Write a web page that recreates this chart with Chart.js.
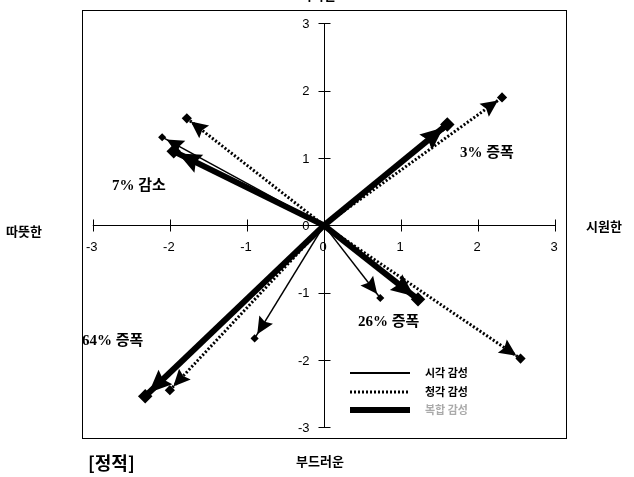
<!DOCTYPE html>
<html>
<head>
<meta charset="utf-8">
<script src="https://cdn.jsdelivr.net/npm/chart.js@4.4.0/dist/chart.umd.min.js"></script>
<style>
  body { margin: 0; background: #fff; }
  #wrap { width: 634px; height: 477px; }
</style>
</head>
<body>
<div id="wrap"><canvas id="myChart" width="634" height="477"></canvas></div>
<script>
// vector end points (origin -> end), one per quadrant group
var groups = ['7% 감소', '3% 증폭', '64% 증폭', '26% 증폭'];
var thinX = [-2.1, 1.55, -0.9, 0.73];
var thinY = [1.31, 1.45, -1.68, -1.08];
var dottedX = [-1.78, 2.31, -2.0, 2.55];
var dottedY = [1.59, 1.9, -2.45, -1.98];
var thickX = [-1.95, 1.6, -2.32, 1.22];
var thickY = [1.1, 1.5, -2.54, -1.1];
var seriesNames = ['시각 감성', '청각 감성', '복합 감성'];
var tickLabels = ['-3', '-2', '-1', '0', '1', '2', '3'];
var tickValues = [-3, -2, -1, 0, 1, 2, 3];

function vectors(xs, ys, name, width, dash) {
    return xs.map(function (x, i) {
        return {
            label: name,
            data: [{x: 0, y: 0}, {x: x, y: ys[i]}],
            showLine: true,
            borderColor: '#000',
            backgroundColor: '#000',
            borderWidth: width,
            borderDash: dash,
            pointRadius: [0, 3],
            pointStyle: 'rectRot',
            arrow: width
        };
    });
}

var datasets = [].concat(
    vectors(thinX, thinY, seriesNames[0], 1.5, []),
    vectors(dottedX, dottedY, seriesNames[1], 3, [2, 2]),
    vectors(thickX, thickY, seriesNames[2], 6, [])
);

// arrow heads, axes through origin, labels and legend
var decor = {
    id: 'decor',
    beforeDatasetsDraw: function (chart) {
        var c = chart.ctx, xs = chart.scales.x, ys = chart.scales.y;
        var a = chart.chartArea;
        c.save();
        c.strokeStyle = '#000';
        c.lineWidth = 1;
        c.strokeRect(a.left + 0.5, a.top + 0.5, a.right - a.left, a.bottom - a.top);
        var ox = Math.round(xs.getPixelForValue(0)) + 0.5;
        var oy = Math.round(ys.getPixelForValue(0)) + 0.5;
        c.beginPath();
        c.moveTo(xs.getPixelForValue(-3), oy); c.lineTo(xs.getPixelForValue(3), oy);
        c.moveTo(ox, ys.getPixelForValue(3)); c.lineTo(ox, ys.getPixelForValue(-3));
        tickValues.forEach(function (v) {
            var px = Math.round(xs.getPixelForValue(v)) + 0.5;
            var py = Math.round(ys.getPixelForValue(v)) + 0.5;
            c.moveTo(px, oy - 6); c.lineTo(px, oy + 6);
            c.moveTo(ox - 6, py); c.lineTo(ox + 6, py);
        });
        c.stroke();
        c.fillStyle = '#000';
        c.font = '13px "Liberation Sans", Arial';
        c.textBaseline = 'middle';
        tickValues.forEach(function (v, i) {
            c.textAlign = 'center';
            c.fillText(tickLabels[i], xs.getPixelForValue(v) - 1, oy + 22);
            c.textAlign = 'right';
            c.fillText(tickLabels[i], ox - 15, ys.getPixelForValue(v) + 1);
        });
        c.restore();
    },
    afterDatasetsDraw: function (chart) {
        var c = chart.ctx;
        c.save();
        chart.data.datasets.forEach(function (ds, i) {
            var pts = chart.getDatasetMeta(i).data;
            var p0 = pts[0], p1 = pts[1];
            var ang = Math.atan2(p1.y - p0.y, p1.x - p0.x);
            var w = ds.arrow;
            var len = w > 4 ? 23 : 17, half = w > 4 ? 10 : 8;
            var back = 5;
            var tx = p1.x - back * Math.cos(ang), ty = p1.y - back * Math.sin(ang);
            c.fillStyle = '#000';
            c.beginPath();
            c.moveTo(tx, ty);
            c.lineTo(tx - len * Math.cos(ang) + half * Math.sin(ang), ty - len * Math.sin(ang) - half * Math.cos(ang));
            c.lineTo(tx - len * 0.85 * Math.cos(ang), ty - len * 0.85 * Math.sin(ang));
            c.lineTo(tx - len * Math.cos(ang) - half * Math.sin(ang), ty - len * Math.sin(ang) + half * Math.cos(ang));
            c.closePath();
            c.fill();
        });

        // group annotations
        c.fillStyle = '#000';
        c.textBaseline = 'middle';
        c.textAlign = 'left';
        c.font = 'bold 15px "Liberation Serif", "Noto Sans CJK KR"';
        var spots = [[112, 186], [460, 153], [82, 341], [358, 322]];
        groups.forEach(function (g, i) {
            c.fillText(g, spots[i][0], spots[i][1]);
        });

        // side labels
        c.font = 'bold 13px "Noto Sans CJK KR"';
        c.fillText('따뜻한', 6, 231);
        c.fillText('시원한', 586, 226);
        c.textAlign = 'center';
        c.fillText('부드러운', 320, 461);
        c.fillText('딱딱한', 318, -5);
        c.font = 'bold 18px "Noto Sans CJK KR"';
        c.textAlign = 'left';
        c.fillText('[정적]', 88, 463);

        // legend
        var ly = [373, 392, 410];
        var lw = [2, 3, 6];
        var ld = [[], [2, 2], []];
        c.strokeStyle = '#000';
        for (var k = 0; k < 3; k++) {
            c.lineWidth = lw[k];
            c.setLineDash(ld[k]);
            c.beginPath();
            c.moveTo(350, ly[k]); c.lineTo(410, ly[k]);
            c.stroke();
        }
        c.setLineDash([]);
        c.font = 'bold 11px "Noto Sans CJK KR"';
        c.fillStyle = '#000';
        c.fillText(seriesNames[0], 425, ly[0]);
        c.fillText(seriesNames[1], 425, ly[1]);
        c.fillStyle = '#aaa';
        c.fillText(seriesNames[2], 425, ly[2]);
        c.restore();
    }
};

var ctx = document.getElementById('myChart').getContext('2d');
var myChart = new Chart(ctx, {
    type: 'scatter',
    data: { datasets: datasets },
    options: {
        responsive: false,
        animation: false,
        layout: { padding: { left: 82, right: 68, top: 10, bottom: 39 } },
        plugins: { legend: { display: false }, tooltip: { enabled: false } },
        scales: {
            x: { type: 'linear', min: -3.14, max: 3.14, display: false },
            y: { type: 'linear', min: -3.16, max: 3.2, display: false }
        }
    },
    plugins: [decor]
});
</script>
</body>
</html>
